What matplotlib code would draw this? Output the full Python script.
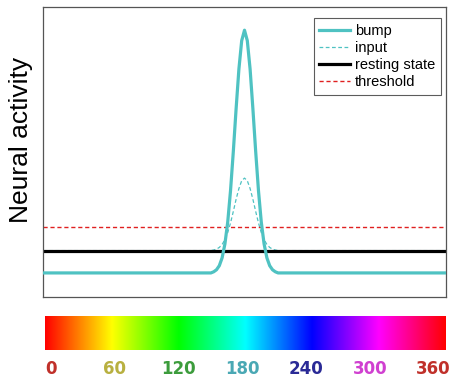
import numpy as np
import matplotlib
matplotlib.use("Agg")
from matplotlib import pyplot as plt
from matplotlib.colors import hsv_to_rgb

plt.rcParams['font.family'] = ['Liberation Sans', 'DejaVu Sans']

# preferred direction (deg) and activity values
angle = [0, 150, 152.5, 155, 157.5, 160, 162.5, 165, 167.5, 170, 172.5, 175, 177.5,
         180, 182.5, 185, 187.5, 190, 192.5, 195, 197.5, 200, 202.5, 205, 207.5, 210, 360]
bump = [0.83, 0.83, 0.87, 0.94, 1.08, 1.35, 1.83, 2.58, 3.66, 5.01, 6.49, 7.86, 8.84,
        9.20, 8.84, 7.86, 6.49, 5.01, 3.66, 2.58, 1.83, 1.35, 1.08, 0.94, 0.87, 0.83, 0.83]
inp = [1.60, 1.60, 1.62, 1.65, 1.71, 1.81, 1.98, 2.22, 2.55, 2.95, 3.37, 3.74, 4.01,
       4.10, 4.01, 3.74, 3.37, 2.95, 2.55, 2.22, 1.98, 1.81, 1.71, 1.65, 1.62, 1.60, 1.60]
resting = 1.6
threshold = 2.4

hue_labels = [0, 60, 120, 180, 240, 300, 360]
hue_colors = ['#c0302a', '#b8b040', '#3c9c3c', '#4aa8b4', '#2a2a96', '#d040d0', '#c0302a']

teal = '#4fc2c2'

fig = plt.figure(figsize=(4.54, 3.78), dpi=100)
ax = fig.add_axes([43 / 454, 1 - 297 / 378, 403 / 454, 290 / 378])

ax.plot(angle, bump, color=teal, lw=2.3, label='bump', zorder=3)
ax.plot(angle, inp, color=teal, lw=0.9, ls=(0, (3, 2)), label='input', zorder=2)
ax.axhline(resting, color='black', lw=2.3, label='resting state', zorder=2.5)
ax.axhline(threshold, color='#e02020', lw=1.0, ls=(0, (3, 2)), label='threshold', zorder=2)

ax.set_xlim(0, 360)
ax.set_ylim(0, 10)
ax.set_xticks([])
ax.set_yticks([])
for s in ax.spines.values():
    s.set_color('#555555')
    s.set_linewidth(0.9)
ax.set_ylabel('Neural activity', fontsize=19)
ax.yaxis.set_label_coords(-0.025, 0.54)

leg = ax.legend(loc='upper right', fontsize=10.5, frameon=True, fancybox=False,
                handlelength=2.1, borderpad=0.4, labelspacing=0.22,
                bbox_to_anchor=(0.988, 0.962), handletextpad=0.35, borderaxespad=0)
leg.get_frame().set_edgecolor('#333333')
leg.get_frame().set_linewidth(0.8)

# hue bar
cax = fig.add_axes([45 / 454, 1 - 350 / 378, 401 / 454, 34 / 378])
h = np.linspace(0, 1, 512)
hsv = np.stack([h, np.ones_like(h), np.ones_like(h)], axis=-1)
rgb = hsv_to_rgb(hsv)[None, :, :]
cax.imshow(rgb, aspect='auto', extent=[0, 360, 0, 1])
cax.set_xlim(0, 360)
cax.axis('off')

for v, c in zip(hue_labels, hue_colors):
    cax.text(5 + v * 0.955, -0.56, str(v), color=c, fontsize=12, fontweight='bold',
             family='DejaVu Sans', ha='center', va='center', transform=cax.transData)

fig.savefig('out.png', dpi=100)
